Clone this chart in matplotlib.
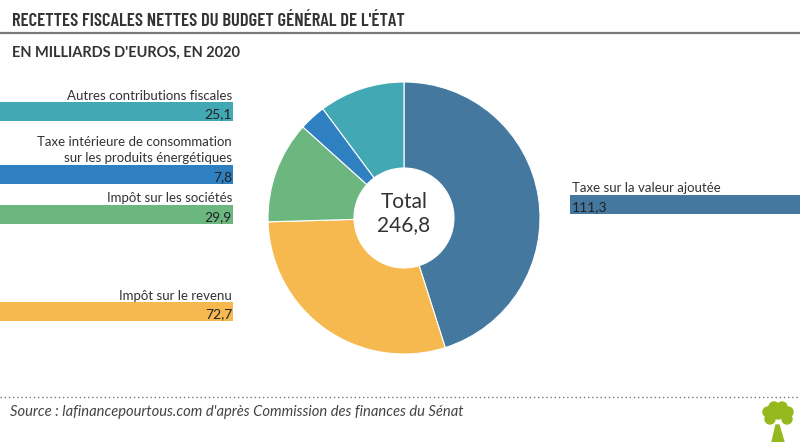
import matplotlib.pyplot as plt
from matplotlib.patches import Circle, Polygon

# data
categories = ["Taxe sur la valeur ajoutée", "Impôt sur le revenu", "Impôt sur les sociétés",
              "Taxe intérieure de consommation\nsur les produits énergétiques",
              "Autres contributions fiscales"]
values = [111.3, 72.7, 29.9, 7.8, 25.1]
value_labels = ["111,3", "72,7", "29,9", "7,8", "25,1"]
colors = ["#45789f", "#f5b94f", "#6cb780", "#2f80c0", "#41a8b4"]
total_label = "246,8"

# layout of the label boxes (pixels): left, top, width, side
boxes = [(570, 195, 230, "right"), (0, 302, 233, "left"), (0, 205, 233, "left"),
         (0, 165, 233, "left"), (0, 102, 233, "left")]
bar_h = 19

body = ["Lato", "DejaVu Sans"]
cond = ["Barlow Condensed", "Roboto Condensed", "DejaVu Sans"]

fig = plt.figure(figsize=(8, 4.42), dpi=100)
ax = fig.add_axes([0, 0, 1, 1])
ax.set_xlim(0, 800)
ax.set_ylim(442, 0)
ax.axis("off")


def fit_width(t, target):
    fig.canvas.draw()
    w = t.get_window_extent(fig.canvas.get_renderer()).width
    t.set_fontsize(t.get_fontsize() * target / w)


# header
title = ax.text(12, 26.5, "RECETTES FISCALES NETTES DU BUDGET GÉNÉRAL DE L'ÉTAT", fontsize=15,
                fontweight=600, family=cond, color="#333333", va="baseline")
ax.plot([0, 800], [33, 33], color="#7a7a7a", lw=1.6)
sub = ax.text(12, 57, "EN MILLIARDS D'EUROS, EN 2020", fontsize=10.5, fontweight="bold",
              family=body, color="#333333", va="baseline")
fit_width(title, 392)
fit_width(sub, 228)

# donut
cx, cy, r, r_in = 404, 218, 136, 50
pax = fig.add_axes([(cx - r) / 800, (442 - cy - r) / 442, 2 * r / 800, 2 * r / 442])
pax.pie(values, colors=colors, startangle=90, counterclock=False, radius=1,
        wedgeprops=dict(width=1 - r_in / r, edgecolor="white", linewidth=0.8))
pax.set_xlim(-1, 1)
pax.set_ylim(-1, 1)
ax.text(cx, 208, "Total", fontsize=15, family=body, color="#333333",
        ha="center", va="baseline")
ax.text(cx, 231, total_label, fontsize=15, family=body, color="#333333",
        ha="center", va="baseline")
ax.set_zorder(2)
ax.patch.set_visible(False)

# label bars
for cat, val, col, (x0, top, w, side) in zip(categories, value_labels, colors, boxes):
    ax.barh(top + bar_h / 2, w, left=x0, height=bar_h, color=col)
    tx = x0 + w - 1 if side == "left" else x0 + 2
    ha = "right" if side == "left" else "left"
    for k, line in enumerate(reversed(cat.split("\n"))):
        ax.text(tx, top - 2.5 - 17 * k, line, fontsize=9.5, family=body,
                color="#333333", ha=ha, va="baseline")
    ax.text(tx, top + bar_h - 3, val, fontsize=10, family=body,
            color="#222222", ha=ha, va="baseline")

# footer
ax.plot([0, 800], [397, 397], color="#777777", lw=1, ls=(0, (1, 2)))
ax.text(10, 416, "Source : lafinancepourtous.com d'après Commission des finances du Sénat",
        fontsize=10.6, family=body, style="italic", color="#444444", va="baseline")

# small tree logo
green = "#95b81c"
ax.add_patch(Polygon([(772, 442), (776, 425), (779, 425), (784, 442)], closed=True, color=green))
for (x, y) in [(768, 412), (774, 407), (782, 407), (788, 412), (770, 419), (787, 419), (778, 414)]:
    ax.add_patch(Circle((x, y), 5, color=green))

fig.savefig("out.png", dpi=100)
